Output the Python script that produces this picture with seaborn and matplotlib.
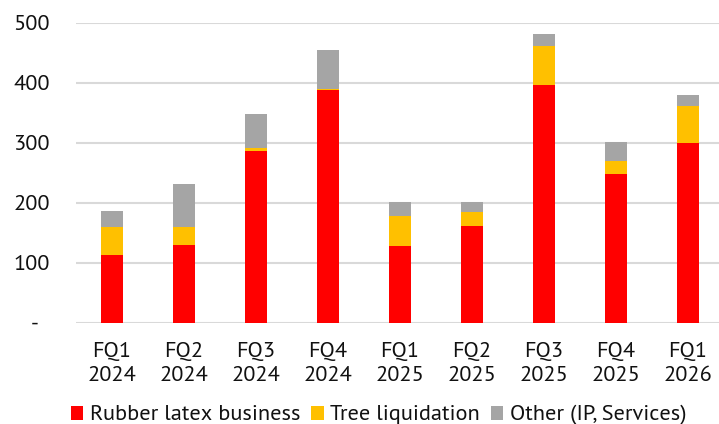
import numpy as np
import pandas as pd
import matplotlib.pyplot as plt
import seaborn as sns
from matplotlib.patches import Patch

# data
quarters = ['FQ1\n2024', 'FQ2\n2024', 'FQ3\n2024', 'FQ4\n2024', 'FQ1\n2025',
            'FQ2\n2025', 'FQ3\n2025', 'FQ4\n2025', 'FQ1\n2026']
rubber = [113, 130, 286, 388, 128, 162, 396, 248, 299]
trees = [47, 30, 5, 1, 50, 23, 65, 22, 62]
other = [26, 72, 57, 65, 24, 16, 20, 32, 18]

series_names = ['Rubber latex business', 'Tree liquidation', 'Other (IP, Services)']
colors = ['#ff0000', '#ffc000', '#a5a5a5']
ytick_vals = [0, 100, 200, 300, 400, 500]
ytick_labels = ['-  ', '100', '200', '300', '400', '500']

df = pd.DataFrame({'quarter': quarters, 'rubber': rubber, 'trees': trees, 'other': other})
df['lvl1'] = df['rubber']
df['lvl2'] = df['rubber'] + df['trees']
df['lvl3'] = df['lvl2'] + df['other']

sns.set_style('white')
plt.rcParams['font.family'] = ['PT Sans', 'DejaVu Sans']
plt.rcParams['text.color'] = '#111111'
plt.rcParams['xtick.color'] = '#111111'
plt.rcParams['ytick.color'] = '#111111'

fig = plt.figure(figsize=(7.19, 4.24), dpi=100)
ax = fig.add_axes([76 / 719, 101.3 / 424, 648 / 719, 300 / 424])

# stacked bars: draw cumulative totals from top down
for col, c in zip(['lvl3', 'lvl2', 'lvl1'], colors[::-1]):
    sns.barplot(data=df, x='quarter', y=col, color=c, width=0.31,
                saturation=1, ax=ax, edgecolor='none', linewidth=0)

ax.set_ylim(0, 500)
ax.set_xlim(-0.5, 8.5)
ax.set_yticks(ytick_vals)
ax.set_yticklabels(ytick_labels)
ax.yaxis.grid(True, color='#d9d9d9', linewidth=1.5)
ax.set_axisbelow(True)
for s in ax.spines.values():
    s.set_visible(False)
ax.tick_params(axis='y', length=0, pad=19, labelsize=16)
ax.tick_params(axis='x', length=0, pad=14, labelsize=16)
for lab in ax.get_xticklabels():
    lab.set_linespacing(1.3)
ax.set_xlabel('')
ax.set_ylabel('')

handles = [Patch(facecolor=c, edgecolor='none') for c in colors]
fig.legend(handles, series_names, loc='lower left', bbox_to_anchor=(62 / 719, -10 / 424),
           ncol=3, frameon=False, fontsize=16, handlelength=0.55, handleheight=0.6,
           handletextpad=0.3, columnspacing=0.5, borderaxespad=0)

fig.savefig('out.png', dpi=100)
